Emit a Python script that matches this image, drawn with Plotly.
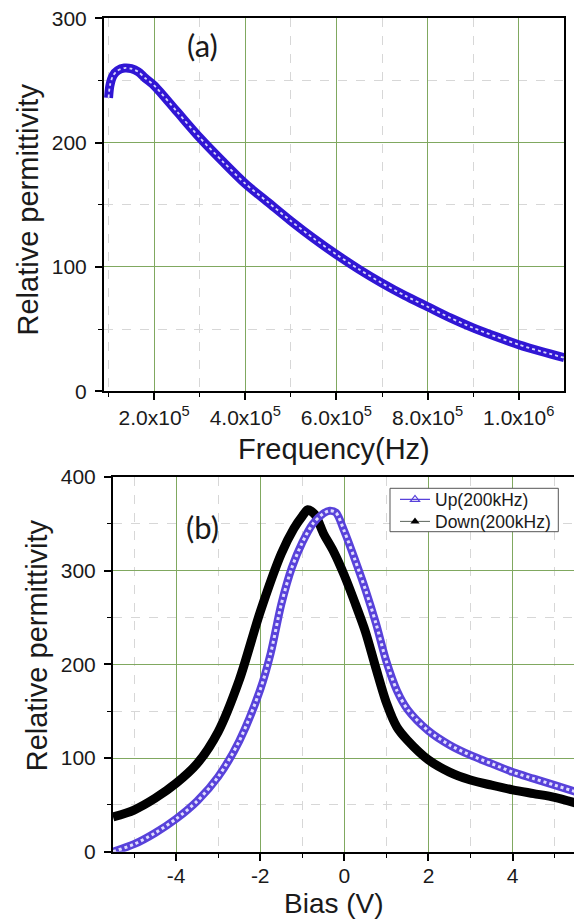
import plotly.graph_objects as go

# ---- data (a): relative permittivity vs frequency ----
freq_a = [1.0e5, 1.03e5, 1.1e5, 1.2e5, 1.35e5, 1.5e5, 1.65e5, 1.8e5, 2.0e5, 2.5e5,
          3.0e5, 3.5e5, 4.0e5, 4.5e5, 5.0e5, 5.5e5, 6.0e5, 6.5e5, 7.0e5, 7.5e5,
          8.0e5, 8.5e5, 9.0e5, 9.5e5, 1.0e6, 1.05e6, 1.1e6]
perm_a = [236, 246, 254, 258, 260, 259.5, 257, 252, 246, 225,
          204, 185, 167, 152, 137, 123, 110, 98, 87, 77,
          68, 59, 51, 44, 37.5, 32, 27]

# ---- data (b): relative permittivity vs bias ----
bias_up = [-5.5, -5.0, -4.5, -4.0, -3.5, -3.0, -2.5, -2.0, -1.75, -1.5, -1.25, -1.0,
           -0.75, -0.5, -0.35, -0.2, 0.0, 0.25, 0.5, 0.75, 1.0, 1.25, 1.5, 2.0,
           2.5, 3.0, 3.5, 4.0, 4.5, 5.0, 5.5]
perm_up = [0, 8, 20, 35, 54, 80, 118, 173, 212, 264, 303, 330,
           350, 361, 364, 362, 342, 312, 280, 244, 203, 172, 152, 129,
           114, 103, 94, 85, 78, 71, 64]

bias_down = [-5.5, -5.0, -4.5, -4.0, -3.5, -3.0, -2.5, -2.0, -1.5, -1.2, -1.0, -0.87,
             -0.7, -0.5, -0.25, 0.0, 0.25, 0.5, 0.75, 1.0, 1.25, 1.5, 2.0, 2.5,
             3.0, 3.5, 4.0, 4.5, 5.0, 5.5]
perm_down = [37, 44.5, 57, 73, 94, 128, 183, 256, 318, 345, 358, 365,
             360, 340, 320, 295, 266, 235, 196, 159, 133, 119, 98, 85,
             76.5, 71, 66, 62, 58, 52]

xticks_a = [2e5, 4e5, 6e5, 8e5, 1e6]
xticktext_a = ["2.0x10<sup>5</sup>", "4.0x10<sup>5</sup>", "6.0x10<sup>5</sup>",
               "8.0x10<sup>5</sup>", "1.0x10<sup>6</sup>"]
xminor_a = [1e5, 3e5, 5e5, 7e5, 9e5]
yticks_a = [0, 100, 200, 300]
yminor_a = [50, 150, 250]

xticks_b = [-4, -2, 0, 2, 4]
xticktext_b = ["-4", "-2", "0", "2", "4"]
xminor_b = [-5, -3, -1, 1, 3, 5]
yticks_b = [0, 100, 200, 300, 400]
yminor_b = [50, 150, 250, 350]

W, H = 574, 920
BLUE_A = "rgb(48,22,212)"
BLUE_B = "rgb(88,66,218)"
GREEN = "rgb(128,168,96)"
MINOR = "rgb(215,215,215)"
FONT = "Liberation Sans, Arial, sans-serif"

fig = go.Figure()

# (a) curve: thick band with light dotted centre to mimic open circles
fig.add_trace(go.Scatter(x=freq_a, y=perm_a, mode="lines", xaxis="x", yaxis="y",
                         line=dict(color=BLUE_A, width=9, shape="spline", smoothing=0.8),
                         showlegend=False, hoverinfo="skip"))
fig.add_trace(go.Scatter(x=freq_a, y=perm_a, mode="lines", xaxis="x", yaxis="y",
                         line=dict(color="rgba(235,235,255,0.9)", width=1.8, dash="dot",
                                   shape="spline", smoothing=0.8),
                         showlegend=False, hoverinfo="skip"))

# (b) Down curve (black filled triangles)
fig.add_trace(go.Scatter(x=bias_down, y=perm_down, mode="lines", xaxis="x2", yaxis="y2",
                         line=dict(color="black", width=9, shape="spline", smoothing=0.8),
                         showlegend=False, hoverinfo="skip"))
# (b) Up curve (blue open triangles)
fig.add_trace(go.Scatter(x=bias_up, y=perm_up, mode="lines", xaxis="x2", yaxis="y2",
                         line=dict(color=BLUE_B, width=8, shape="spline", smoothing=0.8),
                         showlegend=False, hoverinfo="skip"))
fig.add_trace(go.Scatter(x=bias_up, y=perm_up, mode="lines", xaxis="x2", yaxis="y2",
                         line=dict(color="rgba(232,230,255,0.95)", width=3, dash="dot",
                                   shape="spline", smoothing=0.8),
                         showlegend=False, hoverinfo="skip"))

# legend entries (one per legend so the row spacing can match the reference)
fig.add_trace(go.Scatter(x=[None], y=[None], mode="lines+markers", xaxis="x2", yaxis="y2",
                         name="Up(200kHz)", legend="legend",
                         line=dict(color=BLUE_B, width=1.2),
                         marker=dict(symbol="triangle-up-open", size=8, color=BLUE_B,
                                     line=dict(width=1.2))))
fig.add_trace(go.Scatter(x=[None], y=[None], mode="lines+markers", xaxis="x2", yaxis="y2",
                         name="Down(200kHz)", legend="legend2",
                         line=dict(color="rgb(90,100,90)", width=1),
                         marker=dict(symbol="triangle-up", size=8, color="black")))

axis_common = dict(
    showline=True, linecolor="black", linewidth=2,
    ticks="outside", ticklen=7, tickwidth=1.5, tickcolor="black",
    showgrid=True, gridcolor=GREEN, gridwidth=1, zeroline=False,
    tickfont=dict(family=FONT, size=21, color="#1a1a1a"),
    tickmode="array", automargin=False,
)

def minor(vals):
    return dict(tickmode="array", tickvals=vals, ticks="outside", ticklen=4,
                tickwidth=1.2, tickcolor="black",
                showgrid=True, gridcolor=MINOR, griddash="dash", gridwidth=1)

def px(x):
    return x / W

def py(y):
    return 1 - y / H

leg_common = dict(xanchor="left", yanchor="middle", bgcolor="rgba(0,0,0,0)",
                  borderwidth=0, font=dict(family=FONT, size=17.5, color="#1a1a1a"),
                  itemwidth=30)

fig.update_layout(
    width=W, height=H,
    margin=dict(l=0, r=0, t=0, b=0, pad=0, autoexpand=False),
    paper_bgcolor="white", plot_bgcolor="white",
    xaxis=dict(axis_common, domain=[px(104), px(564.3)], range=[0.9e5, 1.1e6],
               tickvals=xticks_a, ticktext=xticktext_a, minor=minor(xminor_a),
               mirror=True, anchor="y", ticklabelstandoff=-1),
    yaxis=dict(axis_common, domain=[py(391.3), py(18.3)], range=[0, 300],
               tickvals=yticks_a, minor=minor(yminor_a), mirror=True, anchor="x",
               ticklabelstandoff=4),
    xaxis2=dict(axis_common, domain=[px(113), 1.0], range=[-5.5, 5.46],
                tickvals=xticks_b, ticktext=xticktext_b, minor=minor(xminor_b),
                mirror=True, anchor="y2", ticklabelstandoff=-3),
    yaxis2=dict(axis_common, domain=[py(851.7), py(477)], range=[0, 400],
                tickvals=yticks_b, minor=minor(yminor_b), mirror=False, anchor="x2",
                ticklabelstandoff=4),
    legend=dict(leg_common, x=px(395), y=py(499.5)),
    legend2=dict(leg_common, x=px(395), y=py(521.5)),
    showlegend=True,
    shapes=[dict(type="rect", xref="paper", yref="paper",
                 x0=px(390), x1=px(558.3), y0=py(531.7), y1=py(488.3),
                 line=dict(color="#555", width=1), fillcolor="white", layer="above")],
)

title_font = dict(family=FONT, size=29, color="#1a1a1a")
label_font = dict(family="Lato, Open Sans, sans-serif", size=31, color="#1a1a1a")
annots = [
    dict(text="Relative permittivity", x=px(27.5), y=py(210), textangle=-90, font=title_font),
    dict(text="Relative permittivity", x=px(36.6), y=py(645.7), textangle=-90, font=title_font),
    dict(text="Frequency(Hz)", x=px(334), y=py(449), font=title_font),
    dict(text="Bias (V)", x=px(334), y=py(903), font=dict(title_font, size=28)),
    dict(text="(a)", x=px(202), y=py(45), font=label_font),
    dict(text="(b)", x=px(202), y=py(527), font=label_font),
]
for a in annots:
    fig.add_annotation(xref="paper", yref="paper", xanchor="center", yanchor="middle",
                       showarrow=False, **a)

fig.write_html("out.html", config={"displayModeBar": False},
               post_script="document.body.style.margin='0';")
